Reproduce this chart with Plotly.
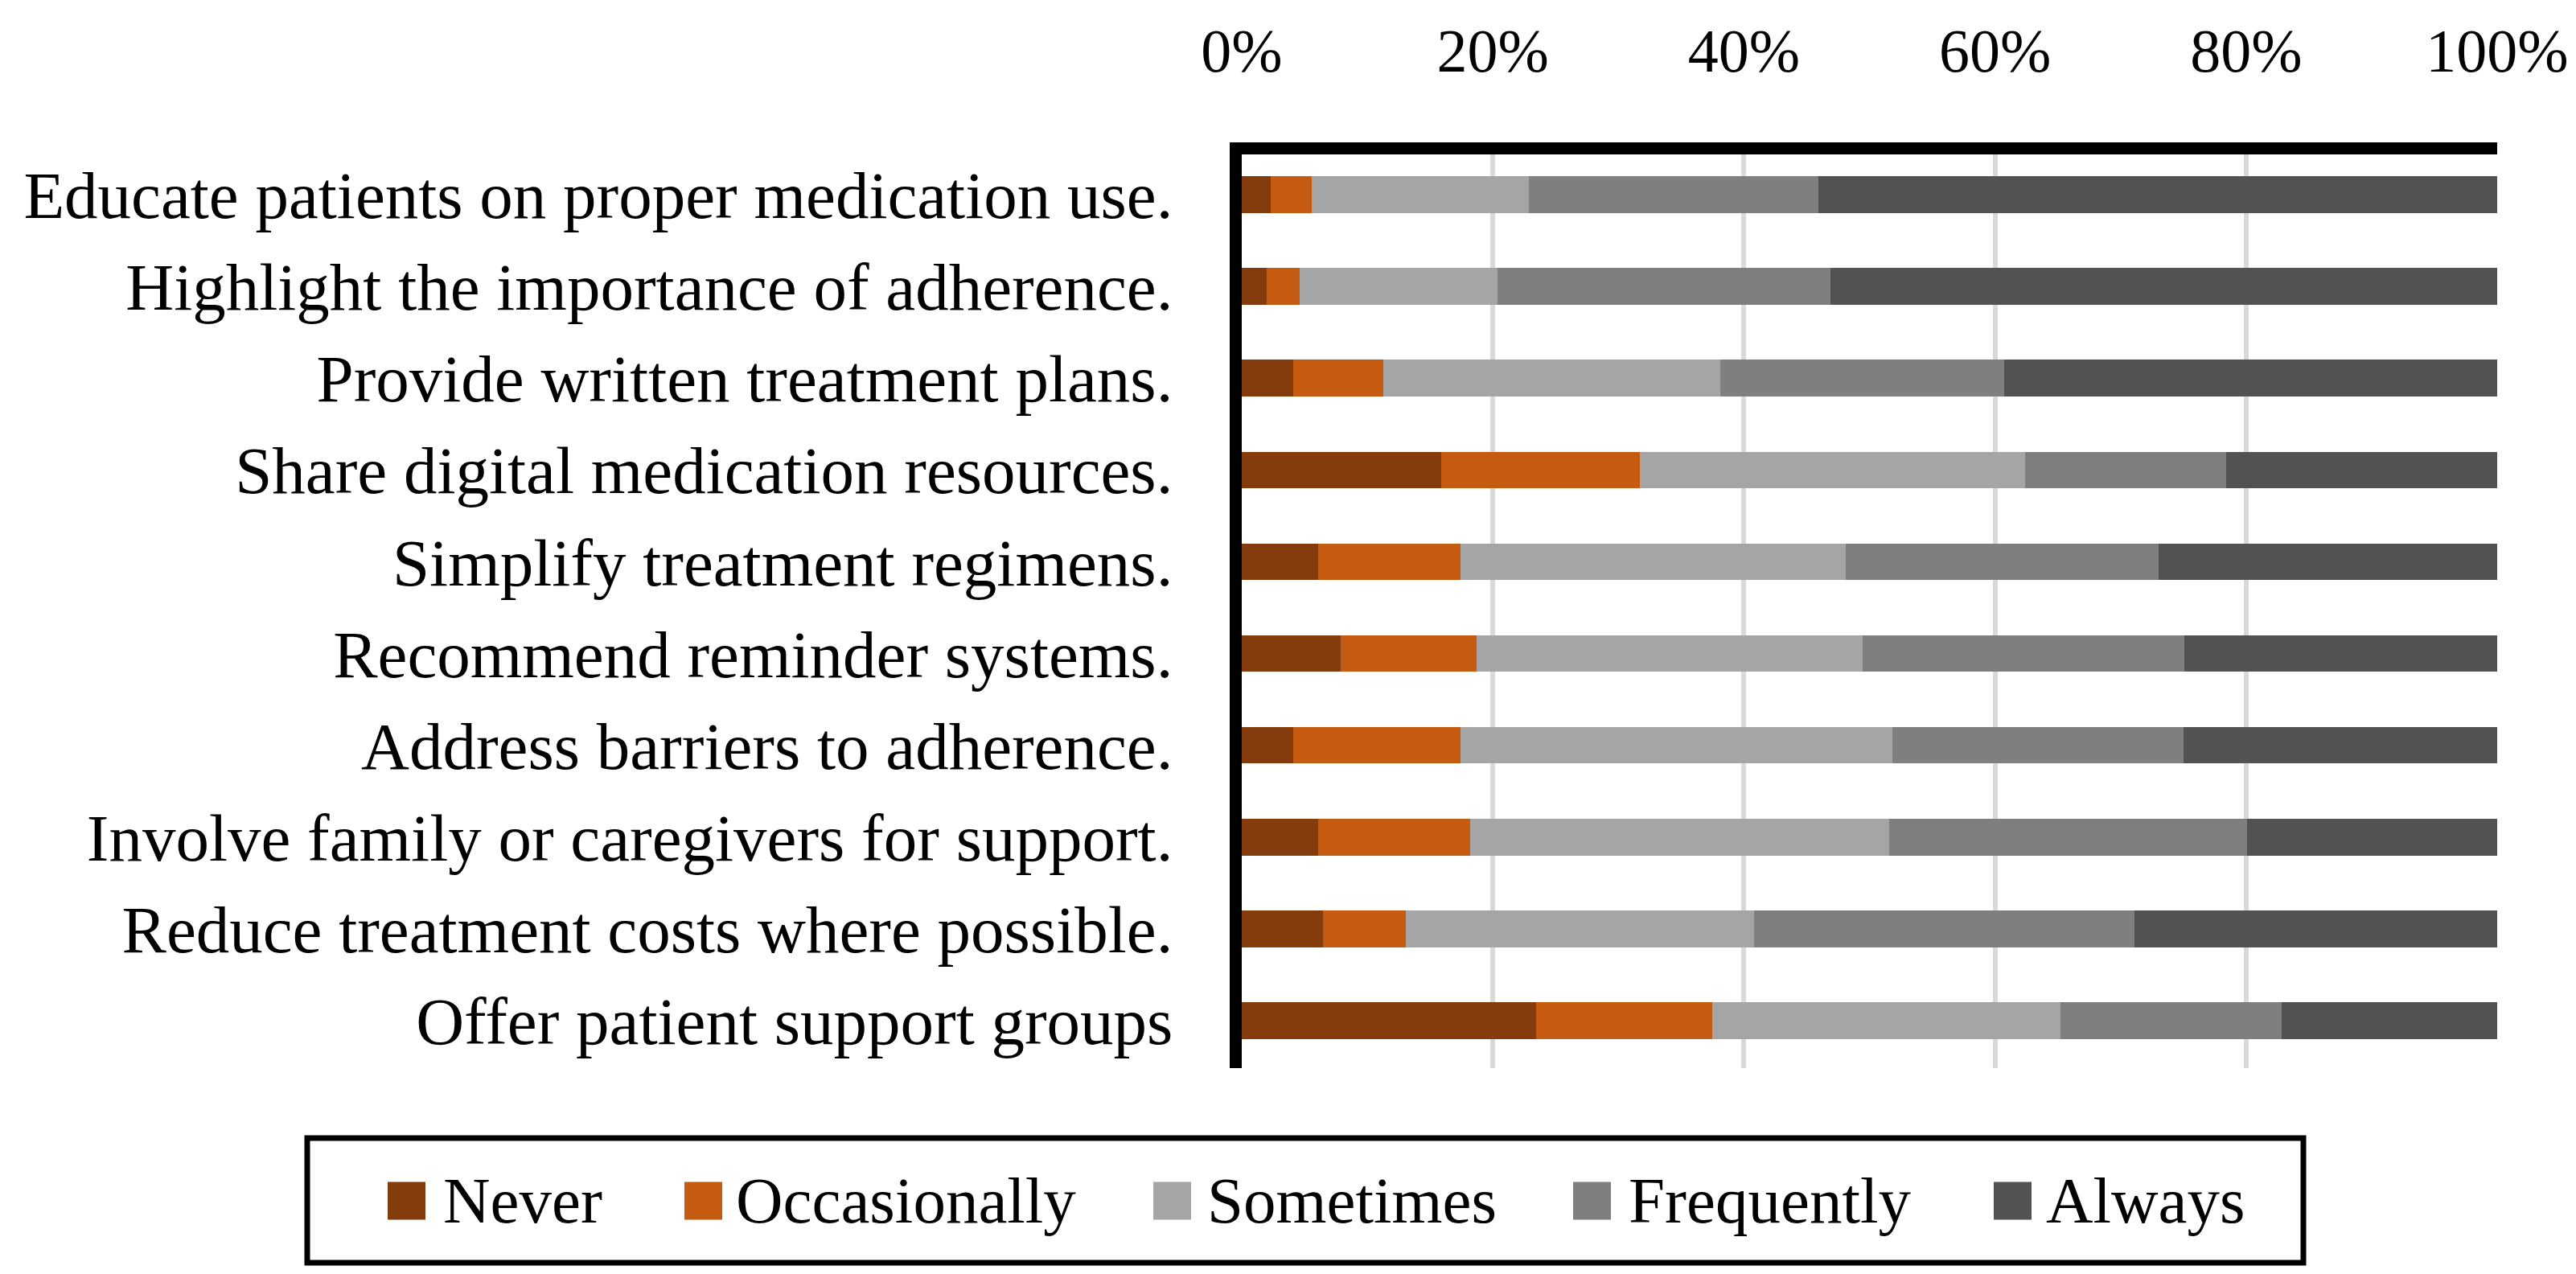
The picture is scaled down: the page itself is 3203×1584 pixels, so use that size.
import plotly.graph_objects as go

categories = [
    "Educate patients on proper medication use.",
    "Highlight the importance of adherence.",
    "Provide written treatment plans.",
    "Share digital medication resources.",
    "Simplify treatment regimens.",
    "Recommend reminder systems.",
    "Address barriers to adherence.",
    "Involve family or caregivers for support.",
    "Reduce treatment costs where possible.",
    "Offer patient support groups",
]

never = [2.3, 2.0, 4.1, 15.9, 6.1, 7.9, 4.1, 6.1, 6.5, 23.45]
occasionally = [3.3, 2.6, 7.2, 15.8, 11.3, 10.8, 13.3, 12.1, 6.6, 14.05]
sometimes = [17.3, 15.8, 26.8, 30.7, 30.7, 30.75, 34.4, 33.4, 27.7, 27.7]
frequently = [23.0, 26.5, 22.6, 16.0, 24.9, 25.6, 23.2, 28.5, 30.3, 17.6]
always = [54.1, 53.1, 39.3, 21.6, 27.0, 25.0, 25.0, 19.9, 28.95, 17.2]

series_names = ["Never", "Occasionally", "Sometimes", "Frequently", "Always"]
series_values = [never, occasionally, sometimes, frequently, always]
series_colors = ["#843C0C", "#C55A11", "#A5A5A5", "#7F7F7F", "#525252"]

x_ticks = [0, 20, 40, 60, 80, 100]
x_tick_labels = ["0%", "20%", "40%", "60%", "80%", "100%"]

W, H = 3203, 1584
ML, MR, MT, MB = 1536, 106, 184, 264
PW, PH = W - ML - MR, H - MT - MB
FONT = "Liberation Serif"


def px_x(p):
    return (p - ML) / PW


def px_y(p):
    return (H - MB - p) / PH


fig = go.Figure()
for name, vals, col in zip(series_names, series_values, series_colors):
    fig.add_trace(go.Bar(
        y=categories, x=vals, name=name, orientation="h",
        marker=dict(color=col, line=dict(width=0)),
        width=0.4, showlegend=False,
    ))

# manual legend (box, colour squares, labels)
legend_box = (374, 1407, 2856, 1562)
legend_sq_x = [474, 843, 1426, 1948, 2471]
legend_txt_x = [541, 905, 1491, 2015, 2534]
legend_cy = 1485
sq = 47

shapes = [dict(type="rect", xref="paper", yref="paper",
               x0=px_x(legend_box[0]), x1=px_x(legend_box[2]),
               y0=px_y(legend_box[3]), y1=px_y(legend_box[1]),
               line=dict(color="black", width=7), fillcolor="rgba(0,0,0,0)")]
annotations = []
for name, col, sx, tx in zip(series_names, series_colors, legend_sq_x, legend_txt_x):
    shapes.append(dict(type="rect", xref="paper", yref="paper",
                       x0=px_x(sx), x1=px_x(sx + sq),
                       y0=px_y(legend_cy + sq / 2), y1=px_y(legend_cy - sq / 2),
                       line=dict(width=0), fillcolor=col))
    annotations.append(dict(text=name, xref="paper", yref="paper",
                            x=px_x(tx), y=px_y(legend_cy), xanchor="left", yanchor="middle",
                            showarrow=False, font=dict(family=FONT, size=81, color="black")))

fig.update_layout(
    width=W, height=H,
    margin=dict(l=ML, r=MR, t=MT, b=MB, pad=0),
    barmode="stack", bargap=0.6,
    plot_bgcolor="white", paper_bgcolor="white",
    font=dict(family=FONT, color="black"),
    shapes=shapes, annotations=annotations,
    xaxis=dict(
        side="top", range=[0, 100], tickvals=x_ticks, ticktext=x_tick_labels,
        showgrid=True, gridcolor="#D9D9D9", gridwidth=6, zeroline=False,
        showline=True, linecolor="black", linewidth=15,
        ticks="", ticklabelstandoff=58,
        tickfont=dict(family=FONT, size=76, color="black"),
    ),
    yaxis=dict(
        range=[9.517, -0.438], showgrid=False, zeroline=False,
        showline=True, linecolor="black", linewidth=15,
        ticks="", ticklabelstandoff=54,
        tickfont=dict(family=FONT, size=83, color="black"),
    ),
)

fig.write_html("out.html")
